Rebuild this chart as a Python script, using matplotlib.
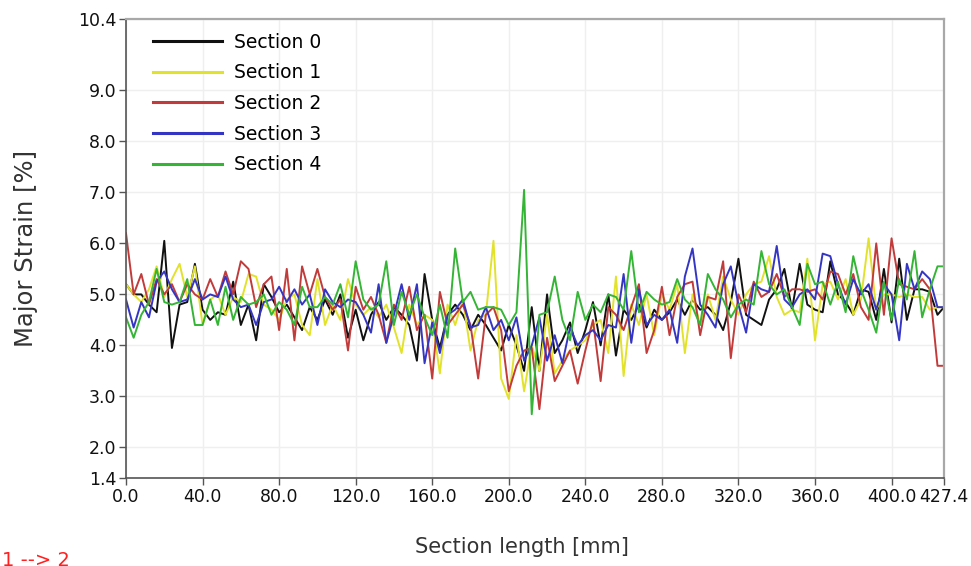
import numpy as np
import matplotlib
matplotlib.use("Agg")
import matplotlib.pyplot as plt

# Measurement stations along the section line [mm]
stations = list(np.arange(0, 425, 4.0)) + [427.4]

# Major strain [%] per section
section_0 = [
    5.2, 5.0, 5.0, 4.8, 4.65, 6.05, 3.95, 4.8, 4.85, 5.6,
    4.7, 4.5, 4.65, 4.6, 5.25, 4.4, 4.8, 4.1, 5.2, 4.95,
    4.65, 4.8, 4.55, 4.3, 4.75, 4.5, 4.9, 4.6, 5.0, 4.15,
    4.7, 4.1, 4.6, 4.85, 4.5, 4.75, 4.6, 4.4, 3.7, 5.4,
    4.5, 3.95, 4.6, 4.8, 4.6, 4.3, 4.6, 4.4, 4.15, 3.9,
    4.4, 4.0, 3.5, 4.75, 3.5, 5.0, 3.85, 4.1, 4.45, 3.85,
    4.3, 4.85, 4.0, 5.0, 3.8, 4.7, 4.5, 4.8, 4.35, 4.7,
    4.5, 4.65, 4.9, 4.6, 4.9, 4.7, 4.75, 4.6, 4.3, 4.85,
    5.7, 4.6, 4.5, 4.4, 4.9, 5.1, 5.5, 4.7, 5.6, 4.8,
    4.7, 4.65, 5.65, 5.0, 4.85, 4.6, 5.1, 5.05, 4.5, 5.5,
    4.45, 5.7, 4.5, 5.1, 5.1, 5.05, 4.6, 4.75,
]
section_1 = [
    5.2, 5.0, 4.85, 5.1, 5.55, 4.95, 5.3, 5.6, 4.95, 5.55,
    4.4, 4.9, 5.0, 4.6, 4.95, 4.85, 5.4, 5.35, 4.8, 4.7,
    4.5, 4.9, 5.0, 4.4, 4.2, 5.3, 4.4, 4.8, 4.5, 5.3,
    4.8, 4.6, 4.75, 4.55, 4.8, 4.35, 3.85, 4.8, 4.4, 4.6,
    4.5, 3.45, 4.8, 4.4, 4.9, 3.9, 4.5, 4.6, 6.05, 3.35,
    2.95, 4.2, 3.1, 4.0, 3.5, 4.6, 3.45, 3.7, 3.9, 4.0,
    4.1, 4.4, 4.5, 3.85, 5.35, 3.4, 4.8, 4.4, 5.0, 4.2,
    5.0, 4.7, 5.2, 3.85, 5.0, 4.4, 5.0, 4.5, 5.35, 4.9,
    4.6, 5.0, 5.2, 5.25, 5.75, 4.95, 4.6, 4.7, 4.65, 5.7,
    4.1, 5.2, 5.25, 4.9, 5.3, 4.6, 4.9, 6.1, 4.7, 5.0,
    5.0, 4.95, 5.0, 4.95, 4.95, 4.7, 4.75, 4.75,
]
section_2 = [
    6.2, 5.0, 5.4, 4.8, 5.3, 5.0, 5.2, 4.85, 5.2, 5.0,
    4.9, 5.3, 4.95, 5.45, 5.0, 5.65, 5.5, 4.75, 5.2, 5.35,
    4.3, 5.5, 4.1, 5.55, 5.0, 5.5, 4.95, 4.7, 4.9, 3.9,
    5.15, 4.7, 4.95, 4.6, 4.05, 4.8, 4.5, 5.15, 4.3, 4.6,
    3.35, 5.05, 4.4, 4.6, 4.8, 4.4, 3.35, 4.6, 4.75, 4.3,
    3.1, 3.6, 3.9, 3.95, 2.75, 4.15, 3.3, 3.6, 3.9, 3.25,
    3.9, 4.5, 3.3, 4.75, 4.6, 4.3, 4.75, 5.2, 3.85, 4.3,
    5.15, 4.2, 4.95, 5.2, 5.25, 4.2, 4.95, 4.9, 5.65, 3.75,
    5.0, 4.65, 5.25, 4.95, 5.05, 5.4, 4.95, 5.1, 5.1, 5.05,
    5.1, 4.9, 5.45, 5.4, 5.0, 5.4, 4.75, 4.5, 6.0, 4.6,
    6.1, 5.2, 5.15, 5.1, 5.3, 5.1, 3.6, 3.6,
]
section_3 = [
    4.9, 4.35, 4.85, 4.55, 5.25, 5.45, 5.1, 4.85, 4.9, 5.3,
    4.9, 5.0, 4.95, 5.35, 4.9, 4.75, 4.8, 4.4, 4.85, 4.9,
    5.15, 4.85, 5.1, 4.8, 5.0, 4.4, 5.1, 4.85, 4.75, 4.9,
    4.85, 4.6, 4.25, 5.2, 4.05, 4.6, 5.2, 4.5, 5.2, 3.65,
    4.45, 3.85, 4.6, 4.7, 4.9, 4.35, 4.4, 4.75, 4.3, 4.5,
    4.1, 4.55, 3.7, 4.0, 4.55, 3.7, 4.2, 3.65, 4.35, 4.0,
    4.2, 4.3, 4.1, 4.4, 4.35, 5.4, 4.05, 5.1, 4.4, 4.6,
    4.5, 4.7, 4.05, 5.35, 5.9, 4.8, 4.6, 4.35, 5.2, 5.55,
    4.8, 4.25, 5.2, 5.1, 5.05, 5.95, 4.9, 4.75, 5.0, 5.1,
    4.9, 5.8, 5.75, 5.2, 4.8, 5.3, 5.0, 5.2, 4.7, 5.2,
    5.0, 4.1, 5.6, 5.1, 5.45, 5.3, 4.75, 4.75,
]
section_4 = [
    4.55, 4.15, 4.6, 4.85, 5.5, 4.85, 4.8, 4.85, 5.3, 4.4,
    4.4, 4.9, 4.4, 5.15, 4.5, 4.95, 4.8, 4.85, 5.0, 4.6,
    4.85, 4.7, 4.4, 5.15, 4.75, 4.75, 4.95, 4.8, 5.2, 4.55,
    5.65, 4.9, 4.7, 4.8, 5.65, 4.4, 5.05, 4.6, 5.0, 4.55,
    4.2, 4.8, 4.15, 5.9, 4.85, 5.05, 4.7, 4.75, 4.75, 4.7,
    4.4, 4.65, 7.05, 2.65, 4.6, 4.65, 5.35, 4.5, 4.1, 5.05,
    4.5, 4.8, 4.65, 5.0, 4.95, 4.7, 5.85, 4.65, 5.05, 4.9,
    4.8, 4.85, 5.3, 4.9, 4.75, 4.4, 5.4, 5.1, 4.9, 4.55,
    4.8, 4.9, 4.8, 5.85, 5.2, 5.0, 5.1, 4.75, 4.4, 5.6,
    5.2, 5.25, 4.8, 5.25, 4.65, 5.75, 5.1, 4.7, 4.25, 5.25,
    4.5, 5.3, 4.9, 5.85, 4.55, 5.1, 5.55, 5.55,
]

series_names = ["Section 0", "Section 1", "Section 2", "Section 3", "Section 4"]
series_values = [section_0, section_1, section_2, section_3, section_4]
series_colors = ["#111111", "#e2e22c", "#c23b3b", "#3535c4", "#35b535"]

y_ticks = [1.4, 2.0, 3.0, 4.0, 5.0, 6.0, 7.0, 8.0, 9.0, 10.4]
x_ticks = [0, 40, 80, 120, 160, 200, 240, 280, 320, 360, 400, 427.4]

plt.rcParams["font.family"] = ["DejaVu Sans"]

fig = plt.figure(figsize=(9.71, 5.66), dpi=100)
ax = fig.add_axes([126 / 971, 1 - 478 / 566, 818 / 971, 459 / 566])

for name, vals, col in zip(series_names, series_values, series_colors):
    ax.plot(stations, vals, color=col, lw=1.4, label=name)

ax.set_xlim(0, 427.4)
ax.set_ylim(1.4, 10.4)
ax.set_xticks(x_ticks)
ax.set_xticklabels([f"{v:.1f}" for v in x_ticks])
ax.set_yticks(y_ticks)
ax.set_yticklabels([f"{v:.1f}" for v in y_ticks])
ax.tick_params(axis="both", labelsize=12.5, length=5, width=1,
               color="#555555", pad=2, labelcolor="#111111")
ax.grid(True, color="#efefef", lw=1)
ax.set_axisbelow(True)

for side in ("left", "bottom"):
    ax.spines[side].set_color("#555555")
    ax.spines[side].set_linewidth(1.2)
for side in ("top", "right"):
    ax.spines[side].set_color("#a8a8a8")
    ax.spines[side].set_linewidth(1.6)

ax.set_ylabel("Major Strain [%]", fontsize=17.5, color="#333333")
ax.yaxis.set_label_coords(-0.108, 0.5)
ax.set_xlabel("Section length [mm]", fontsize=15, color="#333333")
ax.xaxis.set_label_coords(0.484, -0.128)

leg = ax.legend(loc="upper left", bbox_to_anchor=(0.033, 0.970),
                frameon=False, fontsize=13.5, handlelength=3.7,
                handletextpad=0.6, labelspacing=0.62,
                borderpad=0, borderaxespad=0)
for line in leg.get_lines():
    line.set_linewidth(2.2)

fig.text(0.002, 1 - 551 / 566, "1 --> 2", color="#ff2020", fontsize=14,
         ha="left", va="top")

fig.savefig("out.png", dpi=100)
